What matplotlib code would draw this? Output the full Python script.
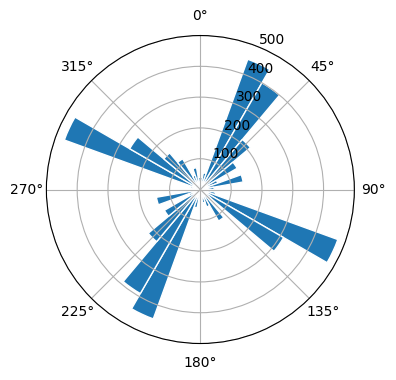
import matplotlib
matplotlib.use("Agg")
import matplotlib.pyplot as plt
import numpy as np

# direction bins (left edge, degrees) and counts
bin_start = np.arange(0, 360, 10)
counts = [40, 55, 450, 400, 212, 138, 60, 141, 45, 35,
          50, 475, 312, 45, 118, 60, 45, 30, 25, 60,
          447, 390, 221, 135, 40, 145, 40, 30, 35, 470,
          265, 155, 115, 50, 72, 40]
r_ticks = [100, 200, 300, 400, 500]

fig = plt.figure(figsize=(3.96, 3.8), dpi=100)
ax = fig.add_axes([0.117, 0.096, 0.778, 0.8105], projection='polar')
ax.set_theta_zero_location('N')
ax.set_theta_direction(-1)

ax.bar(np.deg2rad(bin_start), counts, width=np.deg2rad(10), align='edge',
       color='#1f77b4', edgecolor='white', linewidth=1)

ax.set_ylim(0, 500)
ax.set_yticks(r_ticks)
ax.grid(True)

fig.savefig("out.png", dpi=100)
